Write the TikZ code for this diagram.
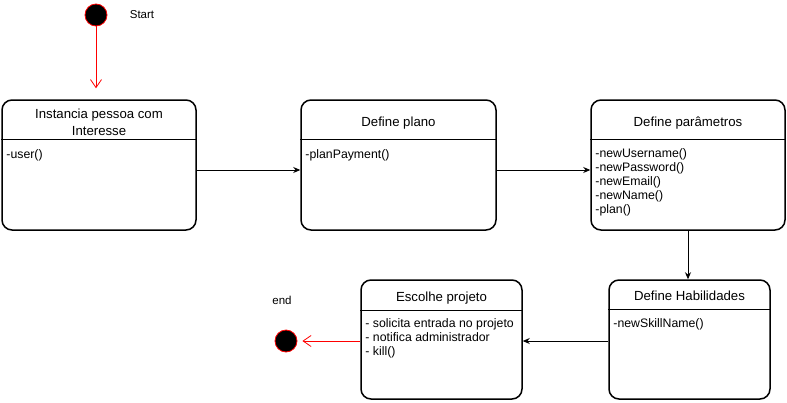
\documentclass[tikz,border=0pt]{standalone}
\usepackage{fontspec}
\setmainfont{Liberation Sans}
\usetikzlibrary{arrows.meta}
\tikzset{
  estado/.style={draw, line width=1.5pt, rounded corners=10pt, inner sep=0pt, fill=white},
  divisao/.style={line width=1.3pt},
  titulo/.style={font=\fontsize{13.2}{16.5}\selectfont, align=center, inner sep=0pt},
  corpo/.style={font=\fontsize{12.3}{14}\selectfont, align=left, inner sep=0pt, anchor=north west},
  rotulo/.style={font=\fontsize{11.5}{13}\selectfont, inner sep=0pt},
  ponto/.style={circle, fill=black, draw=red, line width=0.8pt, minimum size=22pt, inner sep=0pt},
  seta/.style={line width=0.9pt, -{Stealth[length=7pt, width=6pt]}},
  setavermelha/.style={red, line width=0.8pt, -{Straight Barb[length=8pt, width=11pt]}}
}
\begin{document}
\begin{tikzpicture}[x=1pt, y=-1pt, line join=round]
\useasboundingbox (0,0) rectangle (787,402);
% estado inicial
\node[ponto] (ini) at (96,15) {};
\node[rotulo] (lini) at (142,15) {Start};
% estados
\node[estado, minimum width=194pt, minimum height=130pt] (s1) at (99,165) {};
\node[estado, minimum width=195pt, minimum height=130pt] (s2) at (398.5,165) {};
\node[estado, minimum width=194pt, minimum height=130pt] (s3) at (688,165) {};
\node[estado, minimum width=161pt, minimum height=119pt] (s4) at (689.5,339.5) {};
\node[estado, minimum width=161pt, minimum height=119pt] (s5) at (441.5,339.5) {};
% linhas de cabecalho
\draw[divisao] ([yshift=-40pt]s1.north west) -- ([yshift=-40pt]s1.north east);
\draw[divisao] ([yshift=-40pt]s2.north west) -- ([yshift=-40pt]s2.north east);
\draw[divisao] ([yshift=-40pt]s3.north west) -- ([yshift=-40pt]s3.north east);
\draw[divisao] ([yshift=-30pt]s4.north west) -- ([yshift=-30pt]s4.north east);
\draw[divisao] ([yshift=-31pt]s5.north west) -- ([yshift=-31pt]s5.north east);
% titulos
\node[titulo] (t1) at ([yshift=-23pt]s1.north) {Instancia pessoa com\\Interesse};
\node[titulo] (t2) at ([yshift=-24pt]s2.north) {Define plano};
\node[titulo] (t3) at ([yshift=-24pt]s3.north) {Define parâmetros};
\node[titulo] (t4) at ([yshift=-17pt]s4.north) {Define Habilidades};
\node[titulo] (t5) at ([yshift=-18.5pt]s5.north) {Escolhe projeto};
% metodos
\node[corpo] (c1) at ([xshift=5pt, yshift=-50pt]s1.north west) {-user()};
\node[corpo] (c2) at ([xshift=5pt, yshift=-50pt]s2.north west) {-planPayment()};
\node[corpo] (c3) at ([xshift=5pt, yshift=-49pt]s3.north west)
  {-newUsername()\\-newPassword()\\-newEmail()\\-newName()\\-plan()};
\node[corpo] (c4) at ([xshift=5pt, yshift=-39pt]s4.north west) {-newSkillName()};
\node[corpo] (c5) at ([xshift=5pt, yshift=-39pt]s5.north west)
  {- solicita entrada no projeto\\- notifica administrador\\- kill()};
% estado final
\node[ponto] (fim) at (286,341) {};
\node[rotulo] (lfim) at (282,300) {end};
% transicoes
\draw[setavermelha, shorten >=11pt] (ini) -- (ini |- s1.north);
\draw[seta] ([yshift=-5pt]s1.east) -- ([yshift=-5pt]s2.west);
\draw[seta] ([yshift=-5pt]s2.east) -- ([yshift=-5pt]s3.west);
\draw[seta] (s3.south) -- (s3.south |- s4.north);
\draw[seta] ([yshift=-1.5pt]s4.west) -- ([yshift=-1.5pt]s4.west -| s5.east);
\draw[setavermelha, shorten >=5pt] (s5.west |- fim) -- (fim);
\end{tikzpicture}
\end{document}
